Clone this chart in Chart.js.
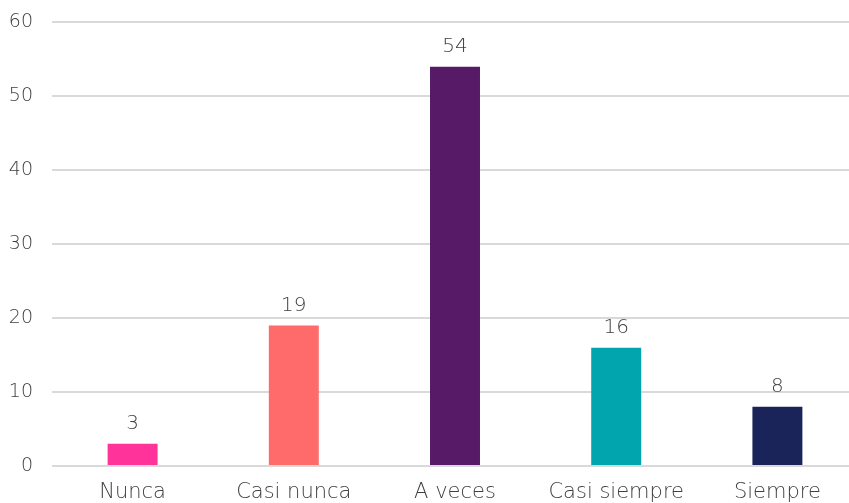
<!DOCTYPE html>
<html>
<head>
<meta charset="utf-8">
<script src="https://cdn.jsdelivr.net/npm/chart.js@4/dist/chart.umd.min.js"></script>
<style>
  html, body { margin: 0; padding: 0; overflow: hidden; background: #fff; }
  #wrap { width: 858px; height: 518px; margin-top: -8px; position: relative; }
</style>
</head>
<body>
<div id="wrap"><canvas id="mycanvas"></canvas></div>
<script>
// answers and how many people picked each one
const categories = ['Nunca', 'Casi nunca', 'A veces', 'Casi siempre', 'Siempre'];
const counts = [3, 19, 54, 16, 8];
const barColors = ['#FF339A', '#FF6A6A', '#561A67', '#00A5AE', '#1B2459'];
const yTicks = [0, 10, 20, 30, 40, 50, 60];

const textGray = '#404040';
const fontFamily = '"DejaVu Sans", sans-serif';
const fontWeight = 200;

// writes the count above each bar
const valueLabels = {
  id: 'valueLabels',
  afterDatasetsDraw(chart) {
    const ctx = chart.ctx;
    ctx.save();
    ctx.font = fontWeight + ' 20px ' + fontFamily;
    ctx.fillStyle = textGray;
    ctx.textAlign = 'center';
    ctx.textBaseline = 'alphabetic';
    chart.getDatasetMeta(0).data.forEach(function (bar, i) {
      ctx.fillText(String(counts[i]), bar.x, bar.y - 15);
    });
    ctx.restore();
  }
};

const data = {
  labels: categories,
  datasets: [{
    data: counts,
    backgroundColor: barColors,
    borderWidth: 0,
    categoryPercentage: 1,
    barPercentage: 0.31
  }]
};

const config = {
  type: 'bar',
  data,
  plugins: [valueLabels],
  options: {
    responsive: true,
    maintainAspectRatio: false,
    animation: false,
    layout: { padding: { top: 14, right: 0, bottom: 0, left: 0 } },
    plugins: {
      legend: { display: false },
      tooltip: { enabled: false }
    },
    scales: {
      x: {
        grid: { display: false, drawTicks: false },
        border: { display: false },
        ticks: {
          color: textGray,
          font: { family: fontFamily, size: 21, weight: fontWeight },
          padding: 14,
          maxRotation: 0
        },
        afterFit(scale) { scale.height = 44; }
      },
      y: {
        min: 0,
        max: 60,
        afterBuildTicks(scale) { scale.ticks = yTicks.map(v => ({ value: v })); },
        grid: { color: '#D9D9D9', lineWidth: 2, drawTicks: false },
        border: { display: false },
        ticks: {
          color: textGray,
          font: { family: fontFamily, size: 19, weight: fontWeight },
          padding: 19
        },
        afterFit(scale) { scale.width = 52; }
      }
    }
  }
};

const myChart = new Chart(document.getElementById('mycanvas'), config);
</script>
</body>
</html>
